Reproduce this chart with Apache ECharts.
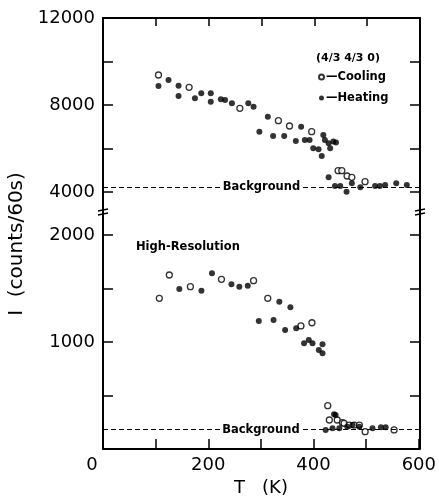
<!DOCTYPE html>
<html>
<head>
<meta charset="utf-8">
<script src="https://cdn.jsdelivr.net/npm/echarts@6/dist/echarts.min.js"></script>
<style>html,body{margin:0;padding:0;background:#fff;}#c{width:439px;height:502px;}</style>
</head>
<body>
<div id="c"></div>
<script>
// ---- data (T in K, I in counts/60s) ----
var coolingTop = [[105,9379],[163,8814],[259,7847],[332,7280],[353,7034],[395,6773],
  [445,4979],[452,4979],[462,4736],[471,4676],[496,4474]];
var heatingTop = [[105,8874],[124,9149],[143,8888],[143,8414],[174,8307],[186,8536],[204,8536],[204,8153],
  [223,8260],[231,8230],[244,8077],[275,8077],[285,7923],[296,6773],[312,7463],[322,6575],[343,6575],
  [365,6345],[375,7000],[382,6390],[391,6390],[398,6009],[408,5963],[414,5655],[417,6621],[420,6390],
  [427,6239],[430,6009],[436,6317],[441,6271],[427,4676],[439,4276],[449,4276],[461,4014],[471,4400],
  [487,4216],[515,4276],[524,4276],[534,4322],[555,4400],[575,4322]];
var coolingBottom = [[107,1408],[126,1626],[166,1517],[225,1586],[286,1573],[313,1408],[376,1150],[397,1180],
  [427,405],[430,271],[445,271],[455,246],[458,240],[468,224],[477,224],[487,224],[498,162],[553,178]];
var heatingBottom = [[145,1495],[187,1480],[207,1642],[244,1539],[259,1517],[275,1526],[296,1196],[324,1206],
  [335,1377],[346,1112],[356,1324],[367,1128],[382,988],[391,1019],[398,988],[410,925],[417,894],[417,978],
  [439,324],[442,318],[423,178],[436,193],[449,193],[464,209],[474,224],[487,209],[512,193],[528,203],[537,203]];
var backgroundTop = 4230;
var backgroundBottom = 180;
var xLabels = [0,200,400,600];
var yTopLabels = [4000,8000,12000];
var yBottomLabels = [1000,2000];

var FONT = 'DejaVu Sans';
var chart = echarts.init(document.getElementById('c'), null, {renderer:'canvas'});
function aLine(){ return {show:true, onZero:false, lineStyle:{color:'#000', width:2}}; }
function yAxisDef(grid, pos, min, max, interval, labels){
  var isLeft = pos === 'left';
  return {
    type:'value', gridIndex:grid, position:pos, min:min, max:max, interval:interval,
    axisLine:aLine(),
    axisTick:{show:true, inside:true, length:10, lineStyle:{color:'#000', width:1.5}},
    axisLabel:{show:isLeft, color:'#000', fontFamily:FONT, fontSize:18, margin:8, showMinLabel:true, showMaxLabel:true,
      formatter:function(v){return labels.indexOf(v) >= 0 ? String(v) : '';}},
    splitLine:{show:false}
  };
}
function xHidden(grid){
  return {type:'value', gridIndex:grid, min:0, max:600, show:false, splitLine:{show:false}};
}
function markBg(v){
  return {
    symbol:'none', silent:true, animation:false,
    lineStyle:{type:[5,3], color:'#000', width:1.2},
    label:{show:true, position:'middle', distance:0, verticalAlign:'middle', formatter:'Background', color:'#000', fontFamily:FONT,
      fontSize:11.5, fontWeight:'bold', backgroundColor:'#fff', padding:[1,2]},
    data:[{yAxis:v}]
  };
}
var openStyle = {color:'#fff', borderColor:'#000', borderWidth:1.3};
var fillStyle = {color:'#000'};
var gTop = {left:103, right:19, top:18, height:174};
var gBot = {left:103, right:19, top:235, bottom:53};
chart.setOption({
  animation:false,
  backgroundColor:'#fff',
  title:[
    {text:'(4/3 4/3 0)', left:311, top:48, textStyle:{fontFamily:FONT, fontSize:11, fontWeight:'bold', color:'#000'}},
    {text:'High-Resolution', left:131, top:236, textStyle:{fontFamily:FONT, fontSize:11.5, fontWeight:'bold', color:'#000'}}
  ],
  legend:{
    orient:'vertical', left:313, top:66, itemGap:9, itemWidth:5, itemHeight:5, icon:'circle',
    data:['Cooling','Heating'],
    formatter:function(n){return '\u2014' + n;},
    textStyle:{fontFamily:FONT, fontSize:11.5, fontWeight:'bold', color:'#000', padding:[0,0,0,-3]}
  },
  grid:[
    Object.assign({}, gTop), Object.assign({}, gBot),
    Object.assign({}, gTop), Object.assign({}, gBot)
  ],
  xAxis:[
    {type:'value', gridIndex:0, position:'top', min:0, max:600, interval:100, axisLine:aLine(),
     axisTick:{inside:true, length:8, lineStyle:{color:'#000', width:1.5}}, axisLabel:{show:false}, splitLine:{show:false}},
    {type:'value', gridIndex:1, position:'bottom', min:0, max:600, interval:100, axisLine:aLine(),
     axisTick:{inside:true, length:10, lineStyle:{color:'#000', width:1.5}},
     axisLabel:{color:'#000', fontFamily:FONT, fontSize:18, margin:7,
       formatter:function(v){ if(xLabels.indexOf(v)<0) return ''; return v===0 ? '{z|0}' : String(v); },
       rich:{z:{fontFamily:FONT, fontSize:18, color:'#000', padding:[0,22,0,0]}}},
     splitLine:{show:false},
     name:'T   (K)', nameLocation:'middle', nameGap:30,
     nameTextStyle:{fontFamily:FONT, fontSize:18, color:'#000'}},
    xHidden(2), xHidden(3)
  ],
  yAxis:[
    yAxisDef(0,'left',4000,12000,2000,yTopLabels),
    yAxisDef(1,'left',0,2000,500,yBottomLabels),
    yAxisDef(2,'right',4000,12000,2000,[]),
    yAxisDef(3,'right',0,2000,500,[])
  ],
  graphic:[
    {type:'text', x:17, y:244, rotation:Math.PI/2,
     style:{text:'I  (counts/60s)', fontFamily:FONT, fontSize:20, fill:'#000', align:'center', verticalAlign:'middle'}},
    {type:'line', shape:{x1:103,y1:191,x2:103,y2:236}, style:{stroke:'#000', lineWidth:2}},
    {type:'line', shape:{x1:420,y1:191,x2:420,y2:236}, style:{stroke:'#000', lineWidth:2}},
    {type:'line', shape:{x1:98,y1:211,x2:108,y2:209}, style:{stroke:'#000', lineWidth:1.5}},
    {type:'line', shape:{x1:98,y1:215,x2:108,y2:213}, style:{stroke:'#000', lineWidth:1.5}},
    {type:'line', shape:{x1:415,y1:211,x2:425,y2:209}, style:{stroke:'#000', lineWidth:1.5}},
    {type:'line', shape:{x1:415,y1:215,x2:425,y2:213}, style:{stroke:'#000', lineWidth:1.5}}
  ],
  series:[
    {name:'Cooling', type:'scatter', xAxisIndex:0, yAxisIndex:0, data:coolingTop, symbol:'circle', symbolSize:6, itemStyle:openStyle, clip:false},
    {name:'Heating', type:'scatter', xAxisIndex:0, yAxisIndex:0, data:heatingTop, symbol:'circle', symbolSize:6, itemStyle:fillStyle, clip:false,
     markLine:markBg(backgroundTop)},
    {name:'Cooling', type:'scatter', xAxisIndex:1, yAxisIndex:1, data:coolingBottom, symbol:'circle', symbolSize:6, itemStyle:openStyle, clip:false},
    {name:'Heating', type:'scatter', xAxisIndex:1, yAxisIndex:1, data:heatingBottom, symbol:'circle', symbolSize:6, itemStyle:fillStyle, clip:false,
     markLine:markBg(backgroundBottom)}
  ]
});
</script>
</body>
</html>
